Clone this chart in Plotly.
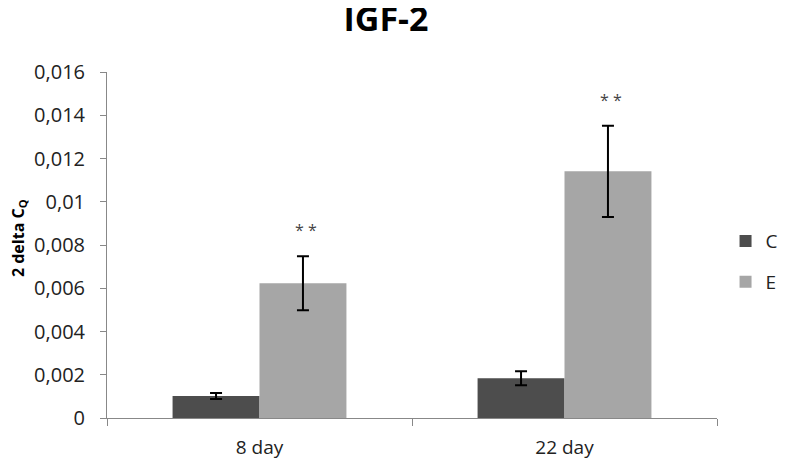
import plotly.graph_objects as go

categories = ["8 day", "22 day"]
series_names = ["C", "E"]
values_C = [0.00102, 0.00184]
errors_C = [0.00014, 0.00032]
values_E = [0.00623, 0.01141]
errors_E = [0.00125, 0.00211]
sig_labels = ["* *", "* *"]
tick_vals = [0, 0.002, 0.004, 0.006, 0.008, 0.010, 0.012, 0.014, 0.016]
tick_text = ["0", "0,002", "0,004", "0,006", "0,008", "0,01", "0,012", "0,014", "0,016"]

FONT = "'Open Sans', sans-serif"
W, H = 780, 455  # page has an 8px body margin

fig = go.Figure()
fig.add_trace(go.Bar(
    name=series_names[0], x=categories, y=values_C,
    marker=dict(color="#4d4d4d", line=dict(width=0)),
    error_y=dict(type="data", array=errors_C, color="black", thickness=2, width=6),
    legendgroup="c",
))
fig.add_trace(go.Bar(
    name=series_names[1], x=categories, y=values_E,
    marker=dict(color="#a6a6a6", line=dict(width=0)),
    error_y=dict(type="data", array=errors_E, color="black", thickness=2, width=6),
    legendgroup="e",
))

for i, cat in enumerate(categories):
    fig.add_annotation(
        x=cat, y=values_E[i] + errors_E[i], text=sig_labels[i],
        xref="x", yref="y", showarrow=False, xshift=46, yshift=26,
        yanchor="middle",
        font=dict(family=FONT, size=16, color="#444444"),
    )

fig.add_annotation(
    text="<b>2 delta C<sub>Q</sub></b>", textangle=-90,
    x=0, xref="paper", xshift=-89, xanchor="center",
    y=0.52, yref="paper", yanchor="middle", showarrow=False,
    font=dict(family=FONT, size=16, color="black"),
)

fig.update_layout(
    width=W, height=H,
    margin=dict(l=99, r=71, t=64, b=45, autoexpand=False),
    paper_bgcolor="white", plot_bgcolor="white",
    barmode="group", bargap=0.43, bargroupgap=0,
    title=dict(text="<b>IGF-2</b>", x=378 / W, xanchor="center", y=1 - 11 / H, yanchor="middle",
               font=dict(family=FONT, size=34, color="black")),
    font=dict(family=FONT, size=20, color="#222222"),
    legend=dict(x=1.014, y=0.452, xanchor="left", yanchor="middle",
                font=dict(family=FONT, size=19, color="#222222"),
                tracegroupgap=13, itemwidth=30, bgcolor="rgba(0,0,0,0)"),
    showlegend=True,
)
fig.update_xaxes(
    automargin=False,
    showline=True, linecolor="#888888", linewidth=1,
    ticks="outside", tickson="boundaries", ticklen=7, tickcolor="#888888",
    ticklabelstandoff=12,
    tickfont=dict(family=FONT, size=19, color="#222222"),
    showgrid=False, zeroline=False,
)
fig.update_yaxes(
    automargin=False,
    range=[0, 0.016], tickvals=tick_vals, ticktext=tick_text,
    showline=True, linecolor="#888888", linewidth=1,
    ticks="outside", ticklen=6, tickcolor="#888888",
    ticklabelstandoff=11,
    tickfont=dict(family=FONT, size=20, color="#222222"),
    showgrid=False, zeroline=False,
)

fig.write_html("out.html")
